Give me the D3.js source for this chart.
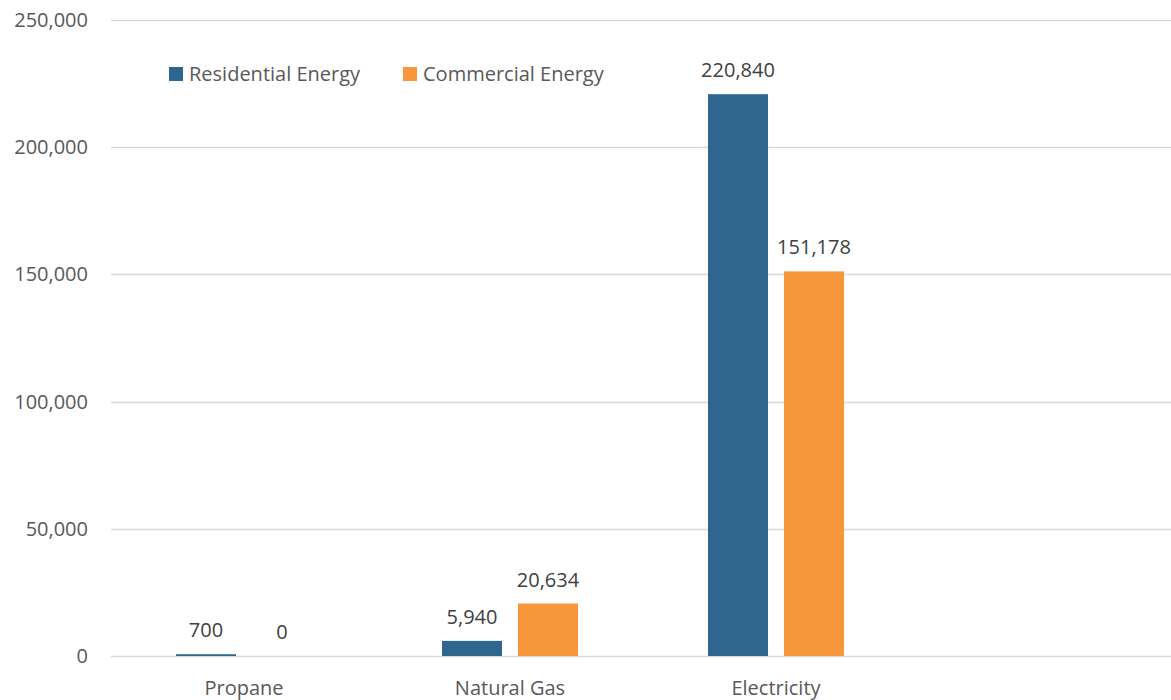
<!DOCTYPE html>
<html>
<head>
<meta charset="utf-8">
<script src="https://cdn.jsdelivr.net/npm/d3@7"></script>
<style>
  html, body { margin: 0; padding: 0; background: #fff; }
  svg { display: block; font-family: "Open Sans", "Noto Sans", sans-serif; }
</style>
</head>
<body>
<svg id="chart" width="1171" height="700"></svg>
<script>
// Energy use by fuel type, residential vs commercial
const categories = ["Propane", "Natural Gas", "Electricity", ""];
const seriesNames = ["Residential Energy", "Commercial Energy"];
const residential = [700, 5940, 220840, null];
const commercial = [0, 20634, 151178, null];
const yTicks = [0, 50000, 100000, 150000, 200000, 250000];
const colors = ["#2F6690", "#F7963A"];

const svg = d3.select("#chart");
const margin = { left: 111, right: 0, top: 20, bottom: 44 };
const W = 1171, H = 700;
const fontSize = "20px";

const x = d3.scaleBand().domain(categories).range([margin.left, margin.left + 266 * 4]).paddingInner(0).paddingOuter(0);
const y = d3.scaleLinear().domain([0, 250000]).range([H - margin.bottom, margin.top]);

const fmt = d3.format(",");

// gridlines
svg.append("g").selectAll("line").data(yTicks).join("line")
  .attr("x1", margin.left).attr("x2", W)
  .attr("y1", d => Math.round(y(d)) + 0.5).attr("y2", d => Math.round(y(d)) + 0.5)
  .attr("stroke", "#D9D9D9").attr("stroke-width", 1.3);

// y axis labels
const yAxis = d3.axisLeft(y).tickValues(yTicks).tickFormat(fmt).tickSize(0).tickPadding(0);
const ga = svg.append("g").attr("transform", `translate(88,0)`).call(yAxis);
ga.select(".domain").remove();
ga.selectAll("text").attr("fill", "#595959").style("font-size", fontSize).style("font-family", "'Open Sans', sans-serif");

// category labels
const xAxis = d3.axisBottom(x).tickSize(0).tickPadding(0);
const gx = svg.append("g").attr("transform", `translate(0,${H - margin.bottom})`).call(xAxis);
gx.select(".domain").remove();
gx.selectAll("text").attr("fill", "#595959").attr("dy", "0").attr("y", 39)
  .style("font-size", fontSize).style("font-family", "'Open Sans', sans-serif");

// bars with value labels
const barW = 60, gap = 16;
const series = [residential, commercial];
series.forEach((vals, si) => {
  const offset = si === 0 ? -(gap / 2 + barW) : gap / 2;
  const rows = categories.map((c, i) => ({ c, v: vals[i] })).filter(d => d.v !== null);
  const g = svg.append("g");
  g.selectAll("rect").data(rows).join("rect")
    .attr("x", d => x(d.c) + x.bandwidth() / 2 + offset)
    .attr("width", barW)
    .attr("y", d => y(d.v))
    .attr("height", d => y(0) - y(d.v))
    .attr("fill", colors[si]);
  g.selectAll("text").data(rows).join("text")
    .attr("x", d => x(d.c) + x.bandwidth() / 2 + offset + barW / 2)
    .attr("y", d => y(d.v) - 17)
    .attr("text-anchor", "middle")
    .attr("fill", "#404040")
    .style("font-size", fontSize)
    .text(d => fmt(d.v));
});

// legend
const legend = svg.append("g");
const legendX = [169, 403];
seriesNames.forEach((name, i) => {
  legend.append("rect").attr("x", legendX[i]).attr("y", 67).attr("width", 14).attr("height", 14).attr("fill", colors[i]);
  legend.append("text").attr("x", legendX[i] + 20).attr("y", 81)
    .attr("fill", "#595959").style("font-size", fontSize).text(name);
});
</script>
</body>
</html>
